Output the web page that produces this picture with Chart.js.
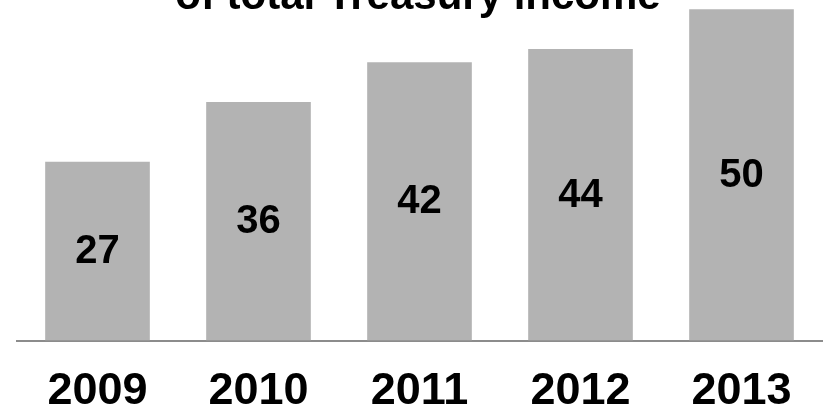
<!DOCTYPE html>
<html>
  <head>
    <meta charset="utf-8">
    <title>treasury income</title>
    <script src="https://cdn.jsdelivr.net/npm/chart.js@4/dist/chart.umd.min.js"></script>
    <style>
      html, body { margin: 0; padding: 0; background: #ffffff; overflow: hidden; }
      .wrap { position: relative; width: 823px; height: 408px; }
    </style>
  </head>
  <body>
    <div class="wrap">
      <canvas id="myChart" width="823" height="408"></canvas>
    </div>
    <script>
      const years = ['2009', '2010', '2011', '2012', '2013'];
      const shares = [27, 36, 42, 44, 50];
      const titleText = 'of total Treasury income';

      const FONT = '"Liberation Sans", Arial, sans-serif';

      // title sits partly above the top edge, drawn without taking layout space
      const titlePlugin = {
        id: 'cutTitle',
        afterDraw(chart) {
          const ctx = chart.ctx;
          ctx.save();
          ctx.font = 'bold 42px ' + FONT;
          ctx.fillStyle = '#000';
          ctx.textAlign = 'center';
          ctx.textBaseline = 'alphabetic';
          ctx.fillText(titleText, 418, 9);
          ctx.restore();
        }
      };

      // value in the middle of each bar
      const valuePlugin = {
        id: 'barValues',
        afterDatasetsDraw(chart) {
          const ctx = chart.ctx;
          const meta = chart.getDatasetMeta(0);
          ctx.save();
          ctx.font = 'bold 40px ' + FONT;
          ctx.fillStyle = '#000';
          ctx.textAlign = 'center';
          ctx.textBaseline = 'middle';
          meta.data.forEach(function(bar, i) {
            const mid = (bar.y + bar.base) / 2;
            ctx.fillText(String(shares[i]), bar.x, mid + 1);
          });
          ctx.restore();
        }
      };

      const ctx = document.getElementById('myChart').getContext('2d');
      new Chart(ctx, {
        type: 'bar',
        data: {
          labels: years,
          datasets: [{
            data: shares,
            backgroundColor: '#b3b3b3',
            borderWidth: 0,
            categoryPercentage: 1,
            barPercentage: 0.65
          }]
        },
        options: {
          responsive: false,
          animation: false,
          devicePixelRatio: 1,
          layout: { padding: { left: 17, right: 1, top: 0, bottom: -35 } },
          plugins: {
            legend: { display: false },
            tooltip: { enabled: false },
            title: { display: false }
          },
          scales: {
            x: {
              grid: { display: false, drawTicks: false },
              border: { display: true, color: '#8c8c8c', width: 2 },
              ticks: {
                color: '#000',
                padding: 31,
                autoSkip: false,
                maxRotation: 0,
                minRotation: 0,
                font: { family: FONT, size: 45, weight: 'bold', lineHeight: 0.9 }
              }
            },
            y: {
              display: false,
              min: 0,
              max: 51.4
            }
          }
        },
        plugins: [titlePlugin, valuePlugin]
      });
    </script>
  </body>
</html>
